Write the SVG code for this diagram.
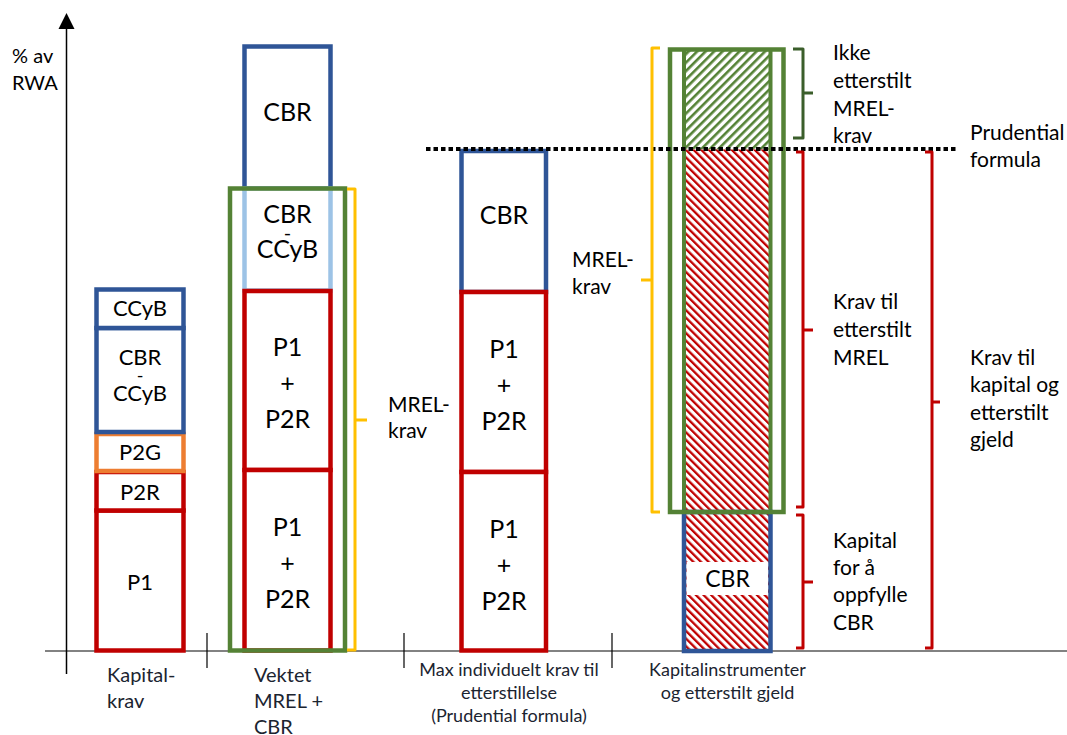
<svg xmlns="http://www.w3.org/2000/svg" width="1067" height="735" viewBox="0 0 1067 735">
<defs>
  <pattern id="hatchGreen" patternUnits="userSpaceOnUse" width="6" height="6" patternTransform="rotate(45)">
    <rect x="0" y="0" width="6" height="6" fill="#fff"/>
    <rect x="0" y="0" width="2.6" height="6" fill="#548235"/>
  </pattern>
  <pattern id="hatchRed" patternUnits="userSpaceOnUse" width="5.4" height="5.4" patternTransform="rotate(-45)">
    <rect x="0" y="0" width="5.4" height="5.4" fill="#fff"/>
    <rect x="0" y="0" width="2.3" height="5.4" fill="#C00000"/>
  </pattern>
</defs>
<style>
  text { font-family: Lato, "Open Sans", "Liberation Sans", sans-serif; fill: #000; }
  .lbl { font-size: 25px; text-anchor: middle; }
  .lbl1 { font-size: 22px; text-anchor: middle; }
  .side { font-size: 21px; }
  .bottom { font-size: 20px; fill: #1b2430; }
  .bottomc { font-size: 18px; fill: #1b2430; text-anchor: middle; }
  .box { fill: #fff; stroke-width: 4.5; }
  .blue { stroke: #2F5597; }
  .red { stroke: #C00000; }
  .orange { stroke: #ED7D31; }
  .lblue { stroke: #9DC3E6; }
  .green { fill: none; stroke: #548235; stroke-width: 4.5; }
  .br { fill: none; stroke-width: 3; stroke-linejoin: round; stroke-linecap: butt; }
  .yellow { stroke: #FFC000; }
  .dgreen { stroke: #3B5E2B; }
  .bred { stroke: #C00000; }
  .tick { stroke: #000; stroke-width: 1.2; }
</style>

<g id="axes">
  <line x1="45" y1="651" x2="1067" y2="651" stroke="#595959" stroke-width="1.6"/>
  <line x1="66.5" y1="26" x2="66.5" y2="674" stroke="#000" stroke-width="1.5"/>
  <polygon points="66.5,13 58.5,29 74.5,29" fill="#000"/>
  <line class="tick" x1="207" y1="633" x2="207" y2="668"/>
  <line class="tick" x1="404" y1="633" x2="404" y2="668"/>
  <line class="tick" x1="612" y1="633" x2="612" y2="668"/>
  <text x="12" y="63" style="font-size:20px">% av</text>
  <text x="12" y="90" style="font-size:20px">RWA</text>
</g>

<g id="col1">
  <rect class="box red" x="96.5" y="510.5" width="87" height="140"/>
  <rect class="box red" x="96.5" y="472" width="87" height="38.5"/>
  <rect class="box orange" x="96.5" y="434" width="87" height="37" stroke-width="4"/>
  <rect class="box blue" x="96.5" y="328" width="87" height="104"/>
  <rect class="box blue" x="96.5" y="289.5" width="87" height="38.5"/>
  <text class="lbl1" x="140" y="316">CCyB</text>
  <text class="lbl1" x="140" y="365">CBR</text>
  <text class="lbl1" x="140" y="382" style="font-size:18px">-</text>
  <text class="lbl1" x="140" y="401">CCyB</text>
  <text class="lbl1" x="140" y="460">P2G</text>
  <text class="lbl1" x="140" y="500">P2R</text>
  <text class="lbl1" x="140" y="590">P1</text>
  <text class="bottom" x="107" y="682">Kapital-</text>
  <text class="bottom" x="107" y="708">krav</text>
</g>

<g id="col2">
  <rect class="box blue" x="244.5" y="46.5" width="86" height="142"/>
  <rect class="box lblue" x="244.5" y="188.5" width="86" height="102"/>
  <rect class="box red" x="244.5" y="291" width="86" height="179"/>
  <rect class="box red" x="244.5" y="470" width="86" height="180.5"/>
  <rect class="green" x="230" y="188.5" width="115" height="462"/>
  <text class="lbl" x="287.5" y="121">CBR</text>
  <text class="lbl" x="287.5" y="223">CBR</text>
  <text class="lbl" x="287.5" y="240" style="font-size:20px">-</text>
  <text class="lbl" x="287.5" y="258">CCyB</text>
  <text class="lbl" x="287.5" y="356">P1</text>
  <text class="lbl" x="287.5" y="392">+</text>
  <text class="lbl" x="287.5" y="428">P2R</text>
  <text class="lbl" x="287.5" y="536">P1</text>
  <text class="lbl" x="287.5" y="572">+</text>
  <text class="lbl" x="287.5" y="608">P2R</text>
  <text class="bottom" x="254" y="682">Vektet</text>
  <text class="bottom" x="254" y="708">MREL +</text>
  <text class="bottom" x="254" y="734">CBR</text>
</g>

<g id="col3">
  <rect class="box blue" x="461.5" y="151" width="84.5" height="141"/>
  <rect class="box red" x="461.5" y="292" width="84.5" height="180"/>
  <rect class="box red" x="461.5" y="472" width="84.5" height="178.5"/>
  <text class="lbl" x="504" y="224">CBR</text>
  <text class="lbl" x="504" y="358">P1</text>
  <text class="lbl" x="504" y="394">+</text>
  <text class="lbl" x="504" y="430">P2R</text>
  <text class="lbl" x="504" y="538">P1</text>
  <text class="lbl" x="504" y="574">+</text>
  <text class="lbl" x="504" y="610">P2R</text>
  <text class="bottomc" x="509" y="676">Max individuelt krav til</text>
  <text class="bottomc" x="509" y="699">etterstillelse</text>
  <text class="bottomc" x="509" y="722">(Prudential formula)</text>
</g>

<g id="col4">
  <rect x="684" y="49.5" width="86.5" height="100" fill="url(#hatchGreen)"/>
  <rect x="684" y="149.5" width="86.5" height="501" fill="url(#hatchRed)"/>
  <rect x="686.5" y="562" width="81.5" height="33" fill="#fff"/>
  <line x1="684" y1="49.5" x2="684" y2="512" stroke="#548235" stroke-width="4"/>
  <line x1="770.5" y1="49.5" x2="770.5" y2="512" stroke="#548235" stroke-width="4"/>
  <rect x="684" y="512" width="86.5" height="139" fill="none" stroke="#2F5597" stroke-width="4.5"/>
  <rect class="green" x="670" y="49.5" width="113.5" height="462.5"/>
  <text x="727.5" y="587" style="font-size:23px;text-anchor:middle">CBR</text>
  <text class="bottomc" x="727.5" y="676">Kapitalinstrumenter</text>
  <text class="bottomc" x="727.5" y="699">og etterstilt gjeld</text>
</g>

<g id="prudential-line">
  <line x1="426" y1="149" x2="958" y2="149" stroke="#000" stroke-width="4" stroke-dasharray="4.5 3"/>
  <text class="side" x="970" y="140">Prudential</text>
  <text class="side" x="970" y="167">formula</text>
</g>

<g id="brackets">
  <path class="br yellow" d="M347 189 H355 V420 H367 M355 420 V650 H347"/>
  <path class="br yellow" d="M660 48 H652 V280 H641 M652 280 V512 H660"/>
  <path class="br dgreen" d="M793 49 H803 V93 H813 M803 93 V138 H793"/>
  <path class="br bred" d="M796 152 H803 V330 H813 M803 330 V507 H796"/>
  <path class="br bred" d="M796 515 H803 V582 H813 M803 582 V648 H796"/>
  <path class="br bred" d="M925 152 H932 V402 H940 M932 402 V648 H925"/>
</g>

<g id="labels">
  <text class="side" x="388" y="412">MREL-</text>
  <text class="side" x="388" y="438">krav</text>
  <text class="side" x="572" y="267">MREL-</text>
  <text class="side" x="572" y="294">krav</text>
  <text class="side" x="833" y="60">Ikke</text>
  <text class="side" x="833" y="88">etterstilt</text>
  <text class="side" x="833" y="116">MREL-</text>
  <text class="side" x="833" y="143">krav</text>
  <text class="side" x="833" y="309">Krav til</text>
  <text class="side" x="833" y="337">etterstilt</text>
  <text class="side" x="833" y="365">MREL</text>
  <text class="side" x="970" y="365">Krav til</text>
  <text class="side" x="970" y="392">kapital og</text>
  <text class="side" x="970" y="420">etterstilt</text>
  <text class="side" x="970" y="447">gjeld</text>
  <text class="side" x="833" y="548">Kapital</text>
  <text class="side" x="833" y="575">for å</text>
  <text class="side" x="833" y="602">oppfylle</text>
  <text class="side" x="833" y="630">CBR</text>
</g>
</svg>
